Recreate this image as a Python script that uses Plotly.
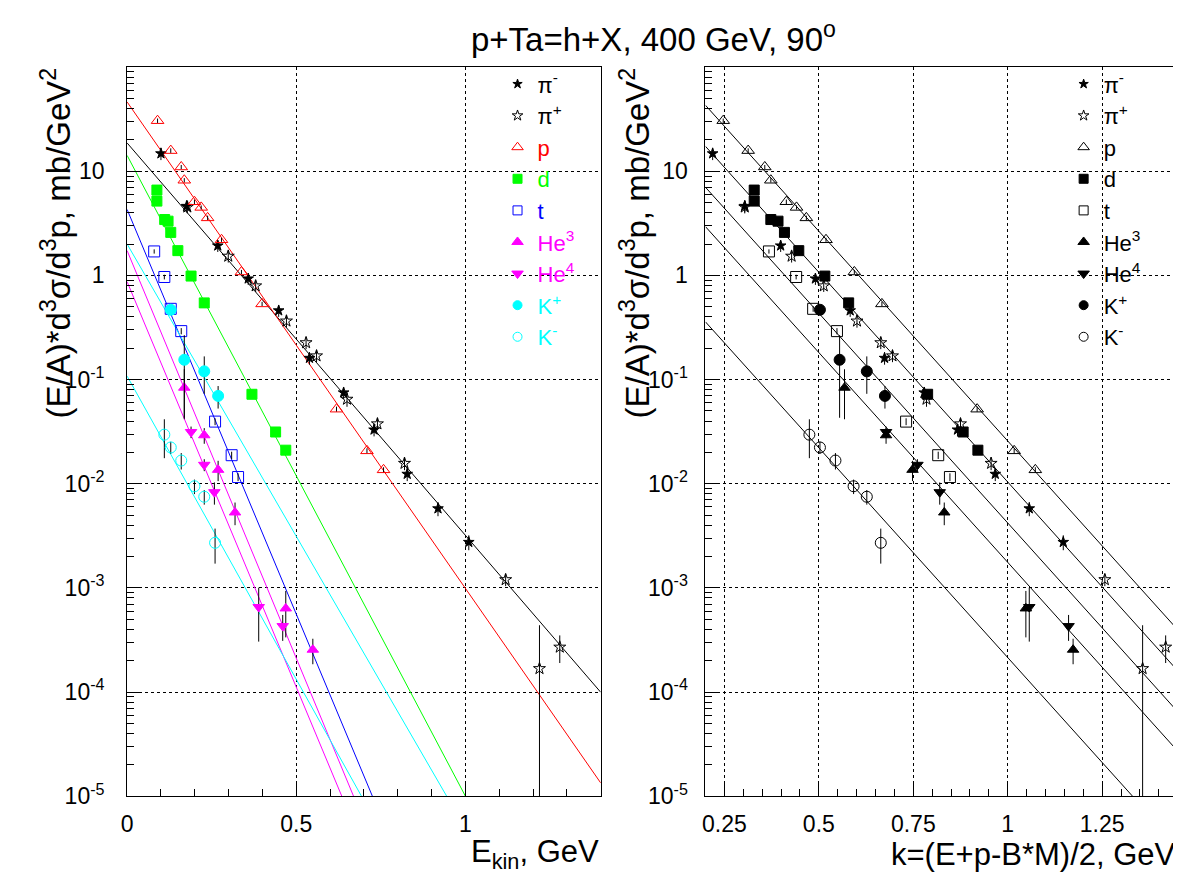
import math
import plotly.graph_objects as go

# ---------------- data ----------------
# values: (E/A) d3sigma/d3p  [mb/GeV^2];  x: Ekin [GeV] (left) and k [GeV] (right)
pim_ekin = [0.100, 0.176, 0.268, 0.358, 0.448, 0.539, 0.640, 0.730, 0.828, 0.919, 1.010]
pim_k    = [0.219, 0.304, 0.399, 0.491, 0.583, 0.674, 0.779, 0.867, 0.967, 1.057, 1.147]
pim_y    = [14.8, 4.63, 1.93, 0.931, 0.460, 0.161, 0.0750, 0.0330, 0.0124, 0.00578, 0.00275]
pim_err  = [2.0, 0.6, 0.25, 0.12, 0.06, 0.022, 0.010, 0.0045, 0.0018, 0.0009, 0.00045]

pip_ekin = [0.178, 0.299, 0.380, 0.471, 0.529, 0.560, 0.650, 0.740, 0.820, 1.119, 1.219, 1.279]
pip_k    = [0.304, 0.428, 0.513, 0.601, 0.664, 0.695, 0.785, 0.875, 0.956, 1.257, 1.357, 1.418]
pip_y    = [4.54, 1.53, 0.794, 0.365, 0.226, 0.169, 0.0648, 0.0376, 0.0157, 0.00120, 1.68e-4, 2.70e-4]
pip_err  = [0.6, 0.2, 0.1, 0.05, 0.03, 0.022, 0.010, 0.005, 0.0022, 0.00016, 2.7e-4, 0.8e-4]

p_ekin = [0.090, 0.129, 0.160, 0.169, 0.199, 0.219, 0.238, 0.279, 0.338, 0.399, 0.619, 0.709, 0.758]
p_k    = [0.247, 0.313, 0.357, 0.373, 0.414, 0.441, 0.467, 0.519, 0.594, 0.667, 0.919, 1.017, 1.073]
p_y    = [30.6, 15.8, 11.0, 8.2, 5.1, 4.5, 3.57, 2.2, 1.08, 0.533, 0.052, 0.0207, 0.0136]
p_err  = [1.5, 0.8, 0.5, 0.4, 0.25, 0.2, 0.18, 0.1, 0.05, 0.025, 0.003, 0.0012, 0.0008]

d_ekin = [0.088, 0.088, 0.111, 0.121, 0.129, 0.150, 0.189, 0.228, 0.369, 0.439, 0.469]
d_k    = [0.329, 0.329, 0.373, 0.392, 0.409, 0.447, 0.516, 0.579, 0.788, 0.882, 0.921]
d_y    = [6.6, 5.17, 3.44, 3.32, 2.59, 1.73, 0.986, 0.545, 0.0723, 0.0314, 0.0210]
d_err  = [0.3, 0.25, 0.17, 0.16, 0.13, 0.08, 0.05, 0.03, 0.004, 0.002, 0.0012]

t_ekin = [0.080, 0.110, 0.129, 0.160, 0.260, 0.309, 0.328]
t_k    = [0.368, 0.440, 0.485, 0.548, 0.731, 0.816, 0.847]
t_y    = [1.70, 0.966, 0.478, 0.292, 0.0395, 0.0188, 0.0116]
t_err  = [0.08, 0.05, 0.03, 0.02, 0.003, 0.0015, 0.001]

he3_ekin = [0.169, 0.228, 0.269, 0.319, 0.469, 0.549]
he3_k    = [0.568, 0.678, 0.748, 0.832, 1.048, 1.173]
he3_y    = [0.0836, 0.0292, 0.0136, 0.0053, 6.35e-4, 2.55e-4]
he3_err  = [0.042, 0.005, 0.003, 0.0013, 3.0e-4, 0.7e-4]

he4_ekin = [0.189, 0.228, 0.258, 0.389, 0.460]
he4_k    = [0.678, 0.761, 0.820, 1.057, 1.161]
he4_y    = [0.0314, 0.0152, 0.0083, 6.55e-4, 4.3e-4]
he4_err  = [0.004, 0.002, 0.002, 3.5e-4, 1.2e-4]

kp_ekin = [0.129, 0.169, 0.228, 0.269]
kp_k    = [0.503, 0.555, 0.627, 0.675]
kp_y    = [0.468, 0.155, 0.120, 0.0697]
kp_err  = [0.03, 0.112, 0.047, 0.017]

km_ekin = [0.110, 0.129, 0.160, 0.199, 0.228, 0.260]
km_k    = [0.475, 0.503, 0.544, 0.592, 0.627, 0.664]
km_y    = [0.0296, 0.0223, 0.0167, 0.00946, 0.0075, 0.00271]
km_err  = [0.012, 0.003, 0.003, 0.0015, 0.0012, 0.001]

# exponential fits  y = A * exp(-x / T)
left_fit_names = ["pi", "p", "d", "t", "He3", "He4", "K+", "K-"]
left_fit_A     = [18.7, 46.3, 14.2, 4.3, 1.73, 0.87, 2.0, 0.108]
left_fit_T     = [0.1153, 0.0930, 0.0706, 0.0559, 0.0555, 0.0558, 0.0774, 0.0746]

right_fit_names = ["p", "pi, d", "t, K+", "He", "K-"]
right_fit_A     = [275.0, 111.0, 44.9, 18.8, 2.29]
right_fit_T     = [0.1078, 0.1078, 0.1078, 0.1078, 0.1078]

tick_exps = [-5, -4, -3, -2, -1, 0, 1]

# ---------------- styling ----------------
FONT = "Liberation Sans, Arial, Helvetica, sans-serif"
RED, GREEN, BLUE, MAG, CYAN, BLACK = "#ff0000", "#00ff00", "#0000ff", "#ff00ff", "#00ffff", "#000000"

species = [
    # name(html), ekin, k, y, err, symbol, size, legend size, color
    ("π<sup>-</sup>", pim_ekin, pim_k, pim_y, pim_err, "star", 8, 7, BLACK),
    ("π<sup>+</sup>", pip_ekin, pip_k, pip_y, pip_err, "star-open", 9, 8, BLACK),
    ("p", p_ekin, p_k, p_y, p_err, "triangle-up-open", 11, 10, RED),
    ("d", d_ekin, d_k, d_y, d_err, "square", 10, 9, GREEN),
    ("t", t_ekin, t_k, t_y, t_err, "square-open", 11, 9, BLUE),
    ("He<sup>3</sup>", he3_ekin, he3_k, he3_y, he3_err, "triangle-up", 10, 10, MAG),
    ("He<sup>4</sup>", he4_ekin, he4_k, he4_y, he4_err, "triangle-down", 10, 10, MAG),
    ("K<sup>+</sup>", kp_ekin, kp_k, kp_y, kp_err, "circle", 11, 9, CYAN),
    ("K<sup>-</sup>", km_ekin, km_k, km_y, km_err, "circle-open", 11, 9, CYAN),
]
left_fit_colors = [BLACK, RED, GREEN, BLUE, MAG, MAG, CYAN, CYAN]

W, H = 1181, 883
OFF = 8  # page body margin of the html page


def fx(px):
    return (px - OFF) / W


def fy(py):
    return (H - (py - OFF)) / H


XL0, XL1 = fx(121.7), fx(597.7)
XR0, XR1 = fx(703.0), fx(1177.7)
Y0, Y1 = fy(808.0), fy(68.0)
YMIN = 1e-5

fig = go.Figure()

# fit lines, left panel
for A, T, c in zip(left_fit_A, left_fit_T, left_fit_colors):
    xe = min(1.4, T * math.log(A / YMIN))
    xs = [0.0, xe]
    fig.add_trace(go.Scatter(x=xs, y=[A * math.exp(-x / T) for x in xs], mode="lines",
                             line=dict(color=c, width=1), showlegend=False, hoverinfo="skip",
                             xaxis="x", yaxis="y"))
# fit lines, right panel
for A, T in zip(right_fit_A, right_fit_T):
    xe = min(1.45, T * math.log(A / YMIN))
    xs = [0.2, xe]
    fig.add_trace(go.Scatter(x=xs, y=[A * math.exp(-x / T) for x in xs], mode="lines",
                             line=dict(color=BLACK, width=1), showlegend=False, hoverinfo="skip",
                             xaxis="x2", yaxis="y2"))

# data points
for i, (name, ek, kk, yy, ee, sym, sz, lsz, col) in enumerate(species):
    eb = dict(type="data", array=ee, color=BLACK, thickness=1, width=0)
    fig.add_trace(go.Scatter(x=ek, y=yy, mode="markers", error_y=eb,
                             marker=dict(symbol=sym, size=sz, color=col, line=dict(color=col, width=1)),
                             showlegend=False, xaxis="x", yaxis="y"))
    fig.add_trace(go.Scatter(x=kk, y=yy, mode="markers", error_y=eb,
                             marker=dict(symbol=sym, size=sz, color=BLACK, line=dict(color=BLACK, width=1)),
                             showlegend=False, xaxis="x2", yaxis="y2"))
    # legend entries
    lname = name if col == BLACK else f'<span style="color:{col}">{name}</span>'
    fig.add_trace(go.Scatter(x=[None], y=[None], mode="markers", name=lname,
                             marker=dict(symbol=sym, size=lsz, color=col, line=dict(color=col, width=1)),
                             legend="legend", xaxis="x", yaxis="y"))
    fig.add_trace(go.Scatter(x=[None], y=[None], mode="markers", name=name,
                             marker=dict(symbol=sym, size=lsz, color=BLACK, line=dict(color=BLACK, width=1)),
                             legend="legend2", xaxis="x2", yaxis="y2"))

tick_font = dict(family=FONT, size=23, color=BLACK)
ytickvals = [10.0 ** e for e in tick_exps]
yticktext = ["1" if e == 0 else ("10" if e == 1 else f"10<sup>{e}</sup>") for e in tick_exps]
yminor = [m * 10.0 ** e for e in range(-5, 2) for m in range(2, 10)]

common_y = dict(type="log", range=[-5, 2], tickmode="array", tickvals=ytickvals, ticktext=yticktext,
                ticks="inside", ticklen=13, tickwidth=1, tickcolor=BLACK,
                minor=dict(tickmode="array", tickvals=yminor, ticks="inside", ticklen=7,
                           tickcolor=BLACK, tickwidth=1, showgrid=False),
                showgrid=True, gridcolor=BLACK, griddash="dot", gridwidth=1,
                showline=True, linecolor=BLACK, linewidth=1, mirror=True,
                zeroline=False, tickfont=tick_font, domain=[Y0, Y1])
common_x = dict(ticks="inside", ticklen=13, tickwidth=1, tickcolor=BLACK,
                showgrid=True, gridcolor=BLACK, griddash="dot", gridwidth=1,
                showline=True, linecolor=BLACK, linewidth=1, mirror=True,
                zeroline=False, tickfont=tick_font, ticklabelstandoff=7)

legend_common = dict(xanchor="left", yanchor="top", bgcolor="rgba(0,0,0,0)",
                     font=dict(family=FONT, size=22, color=BLACK), tracegroupgap=0, itemwidth=30)

fig.update_layout(
    width=W, height=H, autosize=False,
    margin=dict(l=0, r=0, t=0, b=0),
    paper_bgcolor="white", plot_bgcolor="white",
    font=dict(family=FONT, color=BLACK),
    xaxis=dict(common_x, domain=[XL0, XL1], range=[0, 1.4], tickmode="array",
               tickvals=[0, 0.5, 1], ticktext=["0", "0.5", "1"],
               minor=dict(dtick=0.1, tick0=0, ticks="inside", ticklen=7, tickcolor=BLACK, showgrid=False),
               anchor="y"),
    yaxis=dict(common_y, anchor="x", ticklabelstandoff=17),
    xaxis2=dict(common_x, domain=[XR0, XR1], range=[0.2, 1.45], tickmode="array",
                tickvals=[0.25, 0.5, 0.75, 1, 1.25], ticktext=["0.25", "0.5", "0.75", "1", "1.25"],
                minor=dict(dtick=0.05, tick0=0, ticks="inside", ticklen=7, tickcolor=BLACK, showgrid=False),
                anchor="y2"),
    yaxis2=dict(common_y, anchor="x2", ticklabelstandoff=12),
    legend=dict(legend_common, x=fx(494), y=fy(64)),
    legend2=dict(legend_common, x=fx(1063), y=fy(64)),
    annotations=[
        dict(text="p+Ta=h+X, 400 GeV, 90<sup>o</sup>", x=fx(651), y=fy(37), xref="paper", yref="paper",
             xanchor="center", yanchor="middle", showarrow=False, font=dict(family=FONT, size=33)),
        dict(text="(E/A)*d<sup>3</sup>σ/d<sup>3</sup>p, mb/GeV<sup>2</sup>", x=fx(50), y=fy(66),
             xref="paper", yref="paper", xanchor="center", yanchor="top", textangle=-90,
             showarrow=False, font=dict(family=FONT, size=33)),
        dict(text="(E/A)*d<sup>3</sup>σ/d<sup>3</sup>p, mb/GeV<sup>2</sup>", x=fx(632), y=fy(66),
             xref="paper", yref="paper", xanchor="center", yanchor="top", textangle=-90,
             showarrow=False, font=dict(family=FONT, size=33)),
        dict(text="E<sub>kin</sub>, GeV", x=XL1, y=fy(867), xref="paper", yref="paper",
             xanchor="right", yanchor="middle", showarrow=False, font=dict(family=FONT, size=31)),
        dict(text="k=(E+p-B*M)/2, GeV", x=XR1, y=fy(867), xref="paper", yref="paper",
             xanchor="right", yanchor="middle", showarrow=False, font=dict(family=FONT, size=31)),
    ],
)

fig.write_html("out.html")
